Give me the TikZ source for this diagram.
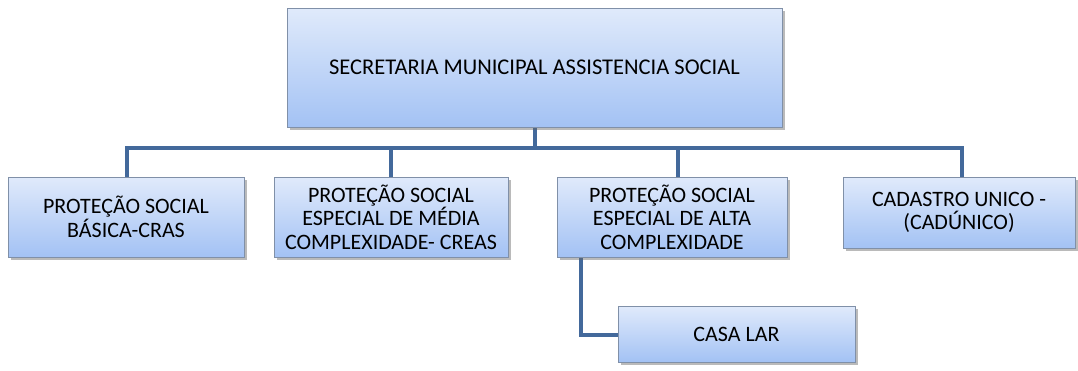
\documentclass[tikz,border=0pt]{standalone}
\usepackage{fontspec}
\setmainfont{Carlito}
\usetikzlibrary{shadows}
\definecolor{boxtop}{HTML}{E0EAFB}
\definecolor{boxbot}{HTML}{A3C2F4}
\definecolor{boxline}{HTML}{8090A8}
\definecolor{conn}{HTML}{43699B}
\tikzset{
  orgbox/.style={draw=boxline, line width=0.8pt, top color=boxtop, bottom color=boxbot,
    align=center, inner sep=0pt, text=black,
    drop shadow={shadow xshift=2.5pt, shadow yshift=-2.5pt, opacity=0.45, fill=black!60}},
  subtext/.style={font=\fontsize{22}{23.5}\selectfont},
  link/.style={draw=conn, line width=4pt},
}
\begin{document}
\begin{tikzpicture}[x=1pt,y=-1pt]
\useasboundingbox (0,0) rectangle (1078,370);
% connectors
\coordinate (h0) at (535,148);
\coordinate (hL) at (127,148);
\coordinate (hR) at (962,148);
\coordinate (c1) at (581,335);
\draw[link] (535,127) -- (h0);
\draw[link, line cap=rect] (hL) -- (hR);
\draw[link] (hL) -- (127,177);
\draw[link] (391,148) -- (391,177);
\draw[link] (678,148) -- (678,177);
\draw[link] (hR) -- (962,177);
\draw[link, line cap=rect] (581,257) -- (c1) -- (618,335);
% boxes
\node[orgbox, minimum width=495pt, minimum height=119pt, font=\fontsize{22.5}{24}\selectfont] (top) at (534.5,67.5) {SECRETARIA MUNICIPAL ASSISTENCIA SOCIAL};
\node[orgbox, subtext, minimum width=236pt, minimum height=80pt] (b1) at (126,217) {PROTEÇÃO SOCIAL\\BÁSICA-CRAS};
\node[orgbox, subtext, minimum width=234pt, minimum height=80pt] (b2) at (391,217) {PROTEÇÃO SOCIAL\\ESPECIAL DE MÉDIA\\COMPLEXIDADE- CREAS};
\node[orgbox, subtext, minimum width=230pt, minimum height=80pt] (b3) at (672,217) {PROTEÇÃO SOCIAL\\ESPECIAL DE ALTA\\COMPLEXIDADE};
\node[orgbox, subtext, minimum width=232pt, minimum height=71pt] (b4) at (959,212.5) {CADASTRO UNICO -\\(CADÚNICO)};
\node[orgbox, subtext, minimum width=237pt, minimum height=56pt] (b5) at (736.5,334) {CASA LAR};
\end{tikzpicture}
\end{document}
